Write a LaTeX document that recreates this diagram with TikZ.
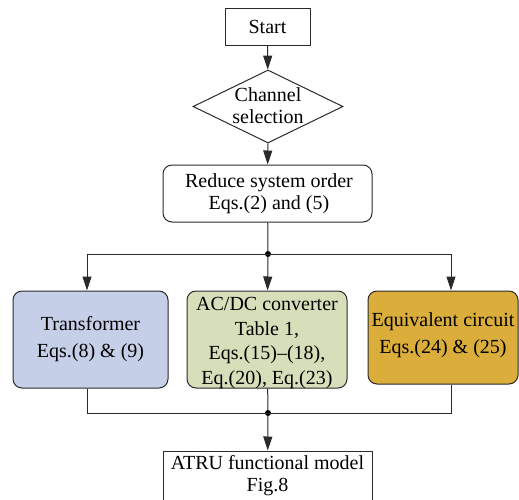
\documentclass[tikz,border=0pt]{standalone}
\usepackage{fontspec}
\setmainfont{Liberation Serif}
\usetikzlibrary{shapes.geometric,arrows.meta}
\definecolor{tbblue}{HTML}{C5CFE8}
\definecolor{tbgreen}{HTML}{D7DFBA}
\definecolor{tbgold}{HTML}{DBAD3A}
\definecolor{lncol}{HTML}{2A2A2A}
\begin{document}
\begin{tikzpicture}[x=1pt,y=-1pt,
  every node/.style={font=\fontsize{20}{22}\selectfont, align=center, inner sep=0pt},
  sqbox/.style={draw=lncol, line width=1pt, fill=white},
  rbox/.style={draw=lncol, line width=1pt, rounded corners=9pt},
  conn/.style={draw=lncol, line width=1pt},
  arr/.style={conn, -{Triangle[length=14pt,width=9pt]}},
  dot/.style={circle, fill=black, minimum size=6pt, inner sep=0pt}]
\useasboundingbox (0,0) rectangle (519,499);
% Start
\node[sqbox, minimum width=85pt, minimum height=37pt] (start) at (267.5,26.5) {Start};
% Diamond
\node[draw=lncol, line width=1pt, diamond, minimum width=150pt, minimum height=73pt, inner sep=0pt] (chan) at (268,106.5) {};
\node (chantext) at (268,106) {Channel\\selection};
% Reduce
\node[rbox, minimum width=209pt, minimum height=57pt] (reduce) at (267.5,193.5) {};
\node (reducetext) at (269,194) {Reduce system order\\ Eqs.(2) and (5)};
% Three boxes
\node[rbox, fill=tbblue, minimum width=155pt, minimum height=97pt] (trans) at (90.5,339.5) {};
\node[font=\fontsize{20}{27}\selectfont] (transtext) at (90.5,339) {Transformer\\Eqs.(8) \& (9)};
\node[rbox, fill=tbgreen, minimum width=160pt, minimum height=97pt] (acdc) at (267,339.5) {};
\node[font=\fontsize{20}{24.5}\selectfont] (acdctext) at (267,343) {AC/DC converter\\Table 1,\\Eqs.(15)\textendash(18),\\Eq.(20), Eq.(23)};
\node[rbox, fill=tbgold, minimum width=150pt, minimum height=93pt] (equiv) at (443,337.5) {};
\node[font=\fontsize{20}{27}\selectfont] (equivtext) at (443,335) {Equivalent circuit\\Eqs.(24) \& (25)};
% ATRU
\node[sqbox, minimum width=209pt, minimum height=60pt] (atru) at (267.5,481) {};
\node (atrutext) at (267.5,476) {ATRU functional model\\Fig.8};
% junctions
\node[dot] (j1) at (268,254) {};
\node[dot] (j2) at (268,413) {};
\coordinate (jl) at (87,254);
\coordinate (jr) at (451,254);
\coordinate (bl) at (87,413);
\coordinate (br) at (451,413);
% connectors
\draw[arr] (start) -- (chan);
\draw[arr] (chan) -- (reduce);
\draw[conn] (reduce) -- (j1);
\draw[conn] (jl) -- (jr);
\draw[arr] (jl) -- (jl |- trans.north);
\draw[arr] (j1) -- (acdc);
\draw[arr] (jr) -- (jr |- equiv.north);
\draw[conn] (trans.south -| bl) -- (bl) -- (br) -- (equiv.south -| br);
\draw[conn] (acdc) -- (j2);
\draw[arr] (j2) -- (atru);
\end{tikzpicture}
\end{document}
